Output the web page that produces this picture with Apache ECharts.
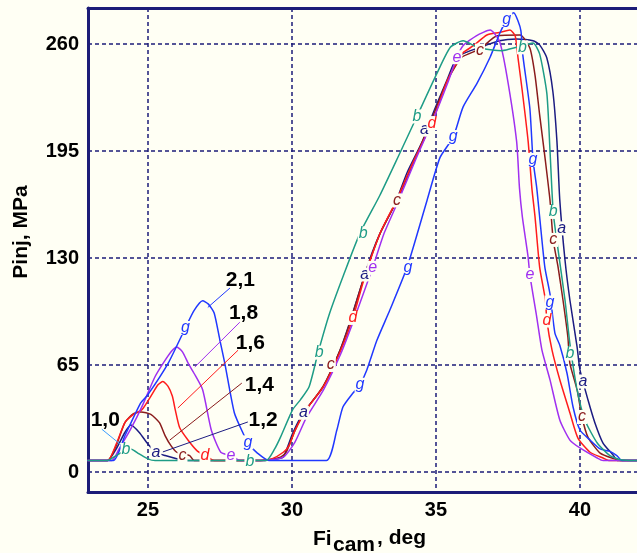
<!DOCTYPE html>
<html>
<head>
<meta charset="utf-8">
<script src="https://cdn.jsdelivr.net/npm/echarts@6.0.0/dist/echarts.min.js"></script>
<style>
html,body{margin:0;padding:0;background:#fffff4;}
#chart{width:637px;height:553px;}
</style>
</head>
<body>
<div id="chart"></div>
<script>
// ---- data (x = Fi_cam deg, y = Pinj MPa) ----
const xTicks = [25, 30, 35, 40];
const yTicks = [0, 65, 130, 195, 260];

const seriesNames = ['a', 'c', 'd', 'e', 'g', 'b'];

const curveA = [[22.9,7],[23.6,7],[23.9,14],[24.2,24],[24.41,28.5],[24.7,24],[25.0,17],[25.28,12],[25.6,10],[26.0,8],[26.3,7],[28.9,7],[29.5,8],[29.7,9],[30.03,23.7],[30.4,36],[31.08,51.6],[31.67,74],[32.0,90.5],[32.47,116.6],[32.78,133],[33.06,145],[33.58,163],[34.0,182],[34.55,201.7],[34.9,218],[35.38,238],[35.73,252],[36.2,256],[36.7,259],[37.2,262],[37.8,263],[38.37,262],[38.6,259.5],[38.85,251.5],[39.06,231],[39.2,201],[39.3,165],[39.48,128.8],[39.65,104.5],[39.9,76],[40.0,62],[40.28,43.7],[40.52,29.8],[40.8,17.6],[41.15,10.3],[41.3,7],[42,7]];
const curveB = [[22.9,7],[23.6,7],[23.9,10],[24.24,13.4],[24.4,14],[24.7,11],[25.0,8],[25.25,7],[29.1,7],[29.4,14],[29.6,21],[30.03,38],[30.3,44],[30.6,52],[30.9,72],[31.3,96],[31.8,120],[32.36,145],[33.05,168],[33.7,192],[34.34,216],[35.03,242],[35.5,258],[35.94,262],[36.5,257.6],[37.3,256],[37.8,258],[38.37,260.6],[38.6,254],[38.85,230],[38.96,195],[39.07,158],[39.2,140],[39.48,104.5],[39.65,78],[39.9,50],[40.17,31.6],[40.6,17.6],[41.04,10],[41.4,7.5],[42,7]];
const curveC = [[22.9,7],[23.6,7],[23.9,16],[24.2,30],[24.5,35.5],[24.76,36.5],[25.1,35],[25.4,30],[25.6,22],[25.8,16],[26.0,12],[26.2,11],[26.45,10],[26.6,7],[29.0,7],[29.6,9],[29.8,12],[30.1,25],[30.5,38],[31.08,52],[31.67,74],[32.0,90],[32.5,118],[33.06,145],[33.65,165],[34.2,187],[34.8,212],[35.4,238],[35.9,252],[36.53,257],[37.12,265],[37.92,265.5],[38.26,257.6],[38.44,241],[38.6,217],[38.8,189],[38.96,165],[39.07,141],[39.24,124.5],[39.41,104.5],[39.58,82],[39.65,66],[39.9,50],[40.07,33.4],[40.28,21],[40.7,11.5],[41.2,8],[41.4,7],[42,7]];
const curveD = [[22.9,7],[23.6,7],[23.9,17],[24.2,30],[24.5,35],[24.8,38],[25.1,46],[25.35,53],[25.52,55],[25.7,52],[25.85,46],[25.95,37.7],[26.1,27],[26.39,19.4],[26.7,13],[26.98,10],[27.3,7],[28.9,7],[29.3,8],[29.7,12],[29.9,16],[30.1,25],[30.5,38],[31.1,52],[31.7,74],[32.12,93.6],[32.5,117],[33.06,145],[33.6,164],[34.2,188],[34.86,212],[35.4,238],[35.9,254],[36.3,259],[36.77,265.5],[37.2,267],[37.57,268.5],[37.75,265],[37.85,251.5],[38.0,231],[38.2,201],[38.33,172.5],[38.44,155],[38.6,124.5],[38.8,104.5],[38.85,92],[39.03,74],[39.3,56],[39.65,36],[39.93,20.6],[40.35,12],[40.8,8.5],[41.0,7],[42,7]];
const curveE = [[22.9,7],[23.75,7],[24.0,14],[24.4,26],[24.8,40],[25.25,58],[25.6,68],[25.85,74],[26.0,76],[26.2,73],[26.4,66],[26.6,60],[26.9,50],[27.2,25.5],[27.53,12],[27.88,10],[28.2,7],[29.0,7],[29.7,9],[30.1,18],[30.5,33],[31.1,50],[31.7,72],[32.12,91],[32.8,124],[33.2,145],[33.7,165],[34.3,190],[34.9,214],[35.4,236],[35.73,252],[35.94,259],[36.4,265],[36.88,268.5],[37.2,262],[37.46,241],[37.8,201],[37.9,172.5],[38.0,155],[38.2,130.6],[38.26,119.7],[38.5,94],[38.68,74],[38.96,56],[39.3,31.6],[39.65,19.4],[40.0,14.6],[40.6,8.5],[40.8,7],[42,7]];
const curveG = [[22.9,7],[23.8,7],[24.2,22],[24.75,42],[25.0,47],[25.7,66],[26.3,87.5],[26.6,98],[26.9,104],[27.1,102],[27.3,96.6],[27.5,80],[27.67,66],[28.0,36],[28.3,23.7],[28.5,17],[28.8,11.5],[29.2,7],[31.2,7],[31.56,25.5],[31.77,39.5],[32.12,48],[32.36,53],[32.6,62],[32.95,80],[33.4,98.4],[34.0,124.5],[34.69,165],[35.14,191],[35.6,203.5],[35.94,221.7],[36.42,236],[36.88,252],[37.22,266.7],[37.5,276],[37.7,279],[37.85,274],[37.95,268],[38.02,252.7],[38.26,221],[38.37,189.6],[38.5,172.5],[38.6,155],[38.78,124.5],[38.96,108],[39.13,84.4],[39.3,77],[39.55,60],[39.76,39.5],[40.0,25.5],[40.35,19.4],[40.7,14],[41.04,12.5],[41.28,10],[41.46,7],[42,7]];

// letter tags placed along each curve
const tagsA = [[25.28,12],[30.4,36],[32.53,120],[34.6,208],[39.37,148],[40.1,55]];
const tagsB = [[24.24,13.4],[28.54,6.5],[30.95,72.5],[32.47,145],[34.34,216],[38.0,258],[39.07,158],[39.65,72]];
const tagsC = [[26.2,10.3],[31.35,65],[33.65,165],[36.53,256],[39.07,141],[40.07,33.4]];
const tagsD = [[26.98,10],[32.12,93.6],[34.86,212],[38.85,92]];
const tagsE = [[27.88,10],[32.8,124],[35.73,252],[38.26,119.7]];
const tagsG = [[26.3,87.5],[28.47,18],[32.36,53],[34.03,124.5],[35.6,203.5],[37.46,274.6],[38.37,189.6],[38.96,103]];

// annotation labels with leader lines
const annoLabels = ['2,1', '1,8', '1,6', '1,4', '1,2', '1,0'];
const annoTextPos = [[28.21,116.6],[28.32,96.6],[28.56,78.4],[28.87,52.9],[29.0,31.6],[23.52,31.6]];
const leaderFrom = [[27.08,100],[26.63,63.8],[26.04,38.9],[25.76,19.4],[25.52,12.2],[24.2,14.6]];
const leaderTo = [[27.85,111.8],[28.19,91],[28.13,74],[28.26,54],[28.47,30.4],[23.4,26]];

// ---- styles ----
const colors = {a:'#1c1c82', b:'#1e9c86', c:'#8a1c1c', d:'#ff1c1c', e:'#a030f0', g:'#2038ff'};
const leaderColors = ['#2038ff', '#a030f0', '#ff1c1c', '#8a1c1c', '#1c1c82', '#3a9cff'];
const curves = {a:curveA, b:curveB, c:curveC, d:curveD, e:curveE, g:curveG};
const tags = {a:tagsA, b:tagsB, c:tagsC, d:tagsD, e:tagsE, g:tagsG};
const navy = '#1c1c78';
const BG = '#fffff4';
const FONT = '"Liberation Sans", Arial, sans-serif';

const series = seriesNames.map(n => ({
  type: 'line',
  name: n,
  data: curves[n],
  smooth: 0.2,
  symbol: 'none',
  clip: true,
  lineStyle: {color: colors[n], width: 1.5},
  z: 3,
  markPoint: {
    symbol: 'circle',
    symbolSize: 1,
    itemStyle: {color: 'rgba(0,0,0,0)'},
    label: {show: true, position: 'inside', formatter: n, color: colors[n],
            fontStyle: 'italic', fontSize: 16, fontFamily: FONT,
            backgroundColor: BG, padding: [0, 1], lineHeight: 14},
    data: tags[n].map(p => ({coord: p}))
  }
}));

// leader lines
series.push({
  type: 'line',
  data: [],
  symbol: 'none',
  z: 4,
  markLine: {
    symbol: 'none',
    silent: true,
    label: {show: false},
    data: leaderFrom.map((p, i) => [
      {coord: p, lineStyle: {color: leaderColors[i], width: 1, type: 'solid'}},
      {coord: leaderTo[i]}
    ])
  }
});
// annotation numbers
series.push({
  type: 'scatter',
  data: annoTextPos.map((p, i) => ({value: p, name: annoLabels[i]})),
  symbolSize: 0,
  z: 5,
  itemStyle: {opacity: 1},
  label: {show: true, position: 'inside', formatter: p => p.name,
          color: '#000', fontWeight: 'bold', fontSize: 21, fontFamily: FONT}
});

const chart = echarts.init(document.getElementById('chart'), null, {renderer: 'canvas'});
chart.setOption({
  backgroundColor: BG,
  animation: false,
  grid: {left: 88, top: 8, right: 0, bottom: 61, show: false},
  xAxis: [{
    type: 'value', min: 22.92, max: 41.98,
    axisLine: {show: true, onZero: false, lineStyle: {color: navy, width: 3}},
    axisTick: {show: false, customValues: xTicks},
    axisLabel: {customValues: xTicks, color: '#000', fontWeight: 'bold', fontSize: 20, fontFamily: FONT, margin: 8},
    splitLine: {show: true, lineStyle: {color: navy, width: 1.5, type: [4, 3]}}
  }, {
    type: 'value', position: 'top', min: 22.92, max: 41.98,
    axisLine: {show: true, onZero: false, lineStyle: {color: navy, width: 3}},
    axisTick: {show: false}, axisLabel: {show: false}, splitLine: {show: false}
  }],
  yAxis: {
    type: 'value', min: -12.15, max: 281.9,
    axisLine: {show: true, onZero: false, lineStyle: {color: navy, width: 3}},
    axisTick: {show: false, customValues: yTicks},
    axisLabel: {customValues: yTicks, color: '#000', fontWeight: 'bold', fontSize: 20, fontFamily: FONT, margin: 9},
    splitLine: {show: true, lineStyle: {color: navy, width: 1.5, type: [4, 3]}}
  },
  graphic: [
    {type: 'text', x: 21, y: 232, rotation: Math.PI / 2,
     style: {text: 'Pinj, MPa', font: 'bold 21px ' + FONT, fill: '#000', align: 'center', verticalAlign: 'middle'}},
    {type: 'text', x: 313, y: 539,
     style: {text: 'Fi', font: 'bold 21px ' + FONT, fill: '#000', align: 'left', verticalAlign: 'middle'}},
    {type: 'text', x: 333, y: 545,
     style: {text: 'cam', font: 'bold 21px ' + FONT, fill: '#000', align: 'left', verticalAlign: 'middle'}},
    {type: 'text', x: 377, y: 538,
     style: {text: ', deg', font: 'bold 21px ' + FONT, fill: '#000', align: 'left', verticalAlign: 'middle'}}
  ],
  series: series
});
</script>
</body>
</html>
